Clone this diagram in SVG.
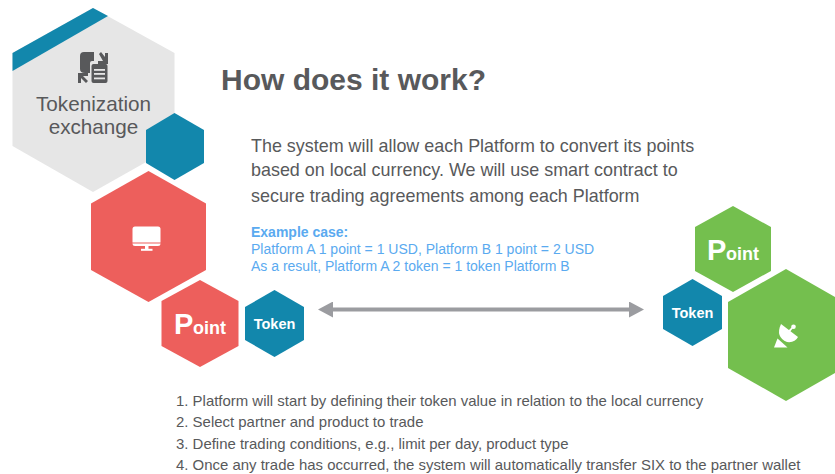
<svg xmlns="http://www.w3.org/2000/svg" width="835" height="474" viewBox="0 0 835 474">
<style>
text{font-family:"Liberation Sans",Arial,sans-serif}
.g{fill:#58595b}
.b{fill:#5aaaf0}
.w{fill:#fff;font-weight:bold}
.teal{fill:#1287ac}
.red{fill:#ed5f5c}
.green{fill:#74bf4e}
</style>
<defs>
<marker id="ah" markerWidth="16" markerHeight="16" refX="8" refY="8" orient="auto-start-reverse" markerUnits="userSpaceOnUse"><path d="M0 0L15 8L0 16Z" fill="#9b9ca0"/></marker>
</defs>
<rect width="835" height="474" fill="#fff"/>
<g id="tokenization-exchange">
<polygon points="93,8 174.500,53 174.500,146 93,192 12.500,146 12.500,53" fill="#e6e6e6"/>
<polygon points="12.500,53 93,8 108,16 12.500,71" class="teal"/>
<g fill="#58595b">
<path d="M84 52H94V61H92Q90 61 90 63V73H85Q80 73 80 69V56Q80 52 84 52Z"/>
<rect x="91.500" y="64" width="16" height="19" rx="2"/>
<path d="M99 54L101 52L105 57V53H108V64H98V61H103Z"/>
<path d="M78 73H88V76H83L88 81L86 83L81 78V83H78Z"/>
</g>
<g fill="#e6e6e6"><rect x="94" y="69" width="11" height="1.800"/><rect x="94" y="73" width="11" height="1.800"/><rect x="94" y="77.500" width="11" height="1.800"/></g>
<text x="93.500" y="111" font-size="20.700" text-anchor="middle" class="g">Tokenization</text>
<text x="93.500" y="134" font-size="20.700" text-anchor="middle" class="g">exchange</text>
</g>
<g id="teal-accent"><polygon points="174.500,113 204,130 204,163 174.500,180 146,163 146,130" class="teal"/></g>
<g id="platform-a">
<polygon points="148.500,171 206,203.500 206,270 148.500,302 91,270 91,203.500" class="red"/>
<path d="M135 226.500H158Q160.500 226.500 160.500 229V242.500H132.500V229Q132.500 226.500 135 226.500Z" fill="#fff"/>
<path d="M132.500 243.500H160.500V244Q160.500 246 158 246H135Q132.500 246 132.500 244Z" fill="#fff"/>
<rect x="145" y="246" width="3.500" height="3" fill="#fff"/>
<rect x="141" y="248.800" width="11.500" height="2" fill="#fff"/>
</g>
<g id="point-a">
<polygon points="200,280 238.500,301 238.500,346 200,367 161.500,346 161.500,301" class="red"/>
<text x="174" y="334" font-size="29" class="w">P</text><text x="193" y="334" font-size="18" class="w">oint</text>
</g>
<g id="token-a">
<polygon points="274.500,290 304,307 304,340 274.500,357 245,340 245,307" class="teal"/>
<text x="274.500" y="329" font-size="14.500" text-anchor="middle" class="w">Token</text>
</g>
<g id="point-b">
<polygon points="733,206 771,227 771,271 733,292 695,271 695,227" class="green"/>
<text x="707" y="260" font-size="29" class="w">P</text><text x="726" y="260" font-size="18" class="w">oint</text>
</g>
<g id="token-b">
<polygon points="692.500,279 722,296 722,329 692.500,346 663,329 663,296" class="teal"/>
<text x="692.500" y="318" font-size="14.500" text-anchor="middle" class="w">Token</text>
</g>
<g id="platform-b">
<polygon points="786,269 844,302 844,368 786,401 728,368 728,302" class="green"/>
<path d="M781 324L798 337Q795 343 787 342Q775 337 781 324Z" fill="#fff"/>
<circle cx="793.500" cy="326.700" r="2.300" fill="#fff"/>
<path d="M788 331L792 327L793 328L789.500 332.500Z" fill="#fff"/>
<path d="M777.500 338.500L782 342.500L787.500 347.500H774Z" fill="#fff"/>
</g>
<g id="connectors">
<line x1="325" y1="309.500" x2="637" y2="309.500" stroke="#9b9ca0" stroke-width="4" marker-start="url(#ah)" marker-end="url(#ah)"/>
</g>
<g id="content">
<text x="221" y="90" font-size="30" font-weight="bold" class="g">How does it work?</text>
<text x="251" y="151.500" font-size="17.930" class="g">The system will allow each Platform to convert its points</text>
<text x="251" y="175.500" font-size="17.930" class="g">based on local currency. We will use smart contract to</text>
<text x="251" y="202" font-size="17.930" class="g">secure trading agreements among each Platform</text>
<text x="251" y="237" font-size="14" font-weight="bold" class="b">Example case:</text>
<text x="251" y="254" font-size="14" class="b">Platform A 1 point = 1 USD, Platform B 1 point = 2 USD</text>
<text x="251" y="271" font-size="14" class="b">As a result, Platform A 2 token = 1 token Platform B</text>
<text x="176" y="406" font-size="14.950" class="g">1. Platform will start by defining their token value in relation to the local currency</text>
<text x="176" y="427" font-size="14.950" class="g">2. Select partner and product to trade</text>
<text x="176" y="449" font-size="14.950" class="g">3. Define trading conditions, e.g., limit per day, product type</text>
<text x="176" y="470" font-size="14.950" class="g">4. Once any trade has occurred, the system will automatically transfer SIX to the partner wallet</text>
</g>
</svg>
